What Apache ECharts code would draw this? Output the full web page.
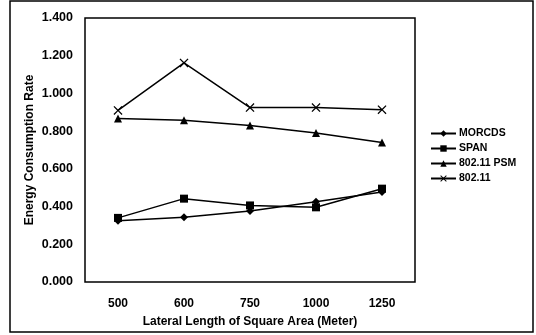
<!DOCTYPE html>
<html><head><meta charset="utf-8">
<script src="https://cdn.jsdelivr.net/npm/echarts@6/dist/echarts.min.js"></script>
<style>html,body{margin:0;padding:0;background:#fff}#c{width:536px;height:335px}</style>
</head><body><div id="c"></div>
<script>
var categories = ['500','600','750','1000','1250'];
var morcds = [0.325,0.343,0.377,0.426,0.477];
var span = [0.340,0.442,0.406,0.396,0.495];
var psm = [0.867,0.858,0.830,0.790,0.740];
var dot11 = [0.910,1.162,0.925,0.925,0.914];
var seriesNames = ['MORCDS','SPAN','802.11 PSM','802.11'];

var xPath = 'path://M0,1L1,0L5,4L9,0L10,1L6,5L10,9L9,10L5,6L1,10L0,9L4,5Z';
var font = 'Liberation Sans, Arial, sans-serif';
function mk(name, data, symbol, size){
  return {name:name,type:'line',data:data,symbol:symbol,symbolSize:size,
    lineStyle:{color:'#000',width:1.5},itemStyle:{color:'#000'},
    emphasis:{disabled:true},animation:false};
}
var chart = echarts.init(document.getElementById('c'));
chart.setOption({
  animation:false,
  graphic:[{type:'rect',shape:{x:10,y:1,width:523,height:331},style:{fill:'none',stroke:'#000',lineWidth:1.5},silent:true}],
  grid:{left:85,right:121,top:18,bottom:53,show:true,borderColor:'#000',borderWidth:1.5,backgroundColor:'transparent'},
  legend:{orient:'vertical',left:425,top:123,itemWidth:25,itemHeight:8,itemGap:4,padding:[5,5,5,5],
    textStyle:{fontFamily:font,fontWeight:'bold',fontSize:10.5,color:'#000',padding:[0,0,0,-2]},
    data:seriesNames},
  xAxis:{type:'category',data:categories,boundaryGap:true,
    axisLine:{show:false},axisTick:{show:false},
    axisLabel:{fontFamily:font,fontWeight:'bold',fontSize:12,color:'#000',margin:16},
    name:'Lateral Length of Square Area (Meter)',nameLocation:'middle',nameGap:34,nameMoveOverlap:false,
    nameTextStyle:{fontFamily:font,fontWeight:'bold',fontSize:12,color:'#000'}},
  yAxis:{type:'value',min:0,max:1.4,interval:0.2,
    axisLine:{show:false},axisTick:{show:false},splitLine:{show:false},
    axisLabel:{fontFamily:font,fontWeight:'bold',fontSize:12.5,color:'#000',margin:12,
      formatter:function(v){return v.toFixed(3);}},
    name:'Energy Consumption Rate',nameLocation:'middle',nameGap:49,nameMoveOverlap:false,
    nameTextStyle:{fontFamily:font,fontWeight:'bold',fontSize:12,color:'#000'}},
  series:[
    mk(seriesNames[0],morcds,'diamond',8),
    mk(seriesNames[1],span,'rect',8),
    mk(seriesNames[2],psm,'triangle',8),
    mk(seriesNames[3],dot11,xPath,9)
  ]
});
</script></body></html>
